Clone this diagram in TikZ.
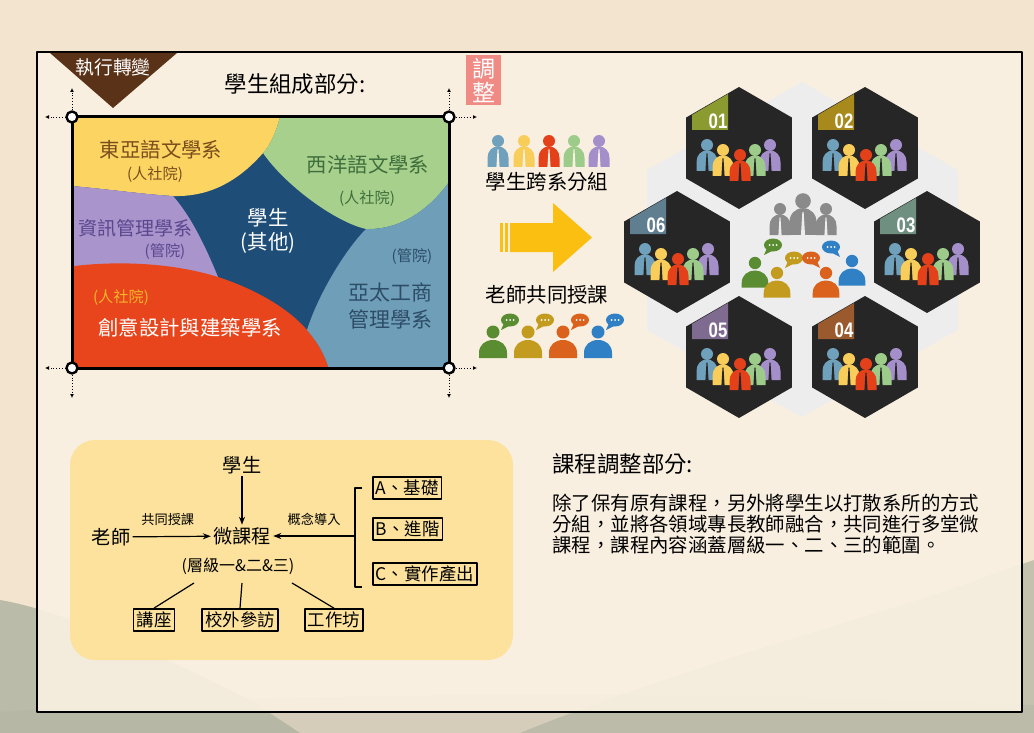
\documentclass[tikz,border=0pt]{standalone}
\usepackage{fontspec}
\setmainfont{Noto Sans CJK TC}
\newfontfamily\numfont{Liberation Sans}
\usetikzlibrary{arrows.meta, positioning}

\definecolor{paperout}{HTML}{F2E4CE}
\definecolor{paperin}{HTML}{FAF1E2}
\definecolor{hillA}{HTML}{A3AA98}
\definecolor{hillB}{HTML}{B2B3A3}
\definecolor{bannerbrown}{HTML}{5A3218}
\definecolor{tagpink}{HTML}{F08A84}
\definecolor{mapyellow}{HTML}{FCD462}
\definecolor{mapgreen}{HTML}{A6D08C}
\definecolor{mapnavy}{HTML}{1E4D78}
\definecolor{mappurple}{HTML}{A994CC}
\definecolor{mapred}{HTML}{E8451C}
\definecolor{mapsteel}{HTML}{6F9FB8}
\definecolor{txtbrown}{HTML}{7A4E1C}
\definecolor{txtgreen}{HTML}{3F6E3C}
\definecolor{txtpurple}{HTML}{5A478E}
\definecolor{txtorange}{HTML}{F6B52A}
\definecolor{txtsteel}{HTML}{2D4C68}
\definecolor{arrowgold}{HTML}{FBBF12}
\definecolor{pblue}{HTML}{6FA1BC}
\definecolor{pyellow}{HTML}{F8CD5A}
\definecolor{pred}{HTML}{E4411B}
\definecolor{pgreen}{HTML}{9CCB8A}
\definecolor{ppurple}{HTML}{A48FCB}
\definecolor{pgrey}{HTML}{8A8A8A}
\definecolor{tgreen}{HTML}{5A8C32}
\definecolor{tolive}{HTML}{C39B1E}
\definecolor{torange}{HTML}{DA621C}
\definecolor{tblue}{HTML}{2F80C4}
\definecolor{hexdark}{HTML}{262626}
\definecolor{hexlight}{HTML}{EDEDED}
\definecolor{tabA}{HTML}{8B9B2F}
\definecolor{tabB}{HTML}{A8891C}
\definecolor{tabC}{HTML}{6F8F80}
\definecolor{tabD}{HTML}{9A5A2E}
\definecolor{tabE}{HTML}{7F6B8F}
\definecolor{tabF}{HTML}{5F7E90}
\definecolor{flowyellow}{HTML}{FCE29C}

% little people
\tikzset{
  pics/person/.style 2 args={code={
    \fill[#1] (0,0) circle (6);
    \fill[#1] (-10.5,26) -- (-10.5,17) .. controls (-10.5,10) and (-6,5.5) .. (0,5.5) .. controls (6,5.5) and (10.5,10) .. (10.5,17) -- (10.5,26) -- cycle;
    \fill[#2] (-0.5,8.5) -- (0.5,8.5) -- (1.6,26.5) -- (-1.6,26.5) -- cycle;
  }},
  pics/speaker/.style={code={
    \fill[#1] (0,0) circle (6.5);
    \fill[#1] (-14,26) -- (-14,21) .. controls (-14,13) and (-8,8) .. (0,8) .. controls (8,8) and (14,13) .. (14,21) -- (14,26) -- cycle;
  }},
  pics/bubble/.style={code={
    \fill[#1] (0,0) ellipse (9 and 6.5);
    \fill[#1] (-6,3) -- (-9,10) -- (-1,6) -- cycle;
    \foreach \d in {-3.5,0,3.5} \fill[white] (\d,0) circle (1);
  }}
}

\begin{document}
\begin{tikzpicture}[x=0.5pt, y=-0.5pt, line join=round]
  \tikzstyle{maplabel}=[font=\fontsize{10.2}{12}\selectfont, inner sep=0pt]
  \tikzstyle{college}=[font=\fontsize{7.6}{9}\selectfont, inner sep=0pt]
  \tikzstyle{corner}=[circle, draw, fill=white, line width=1.2pt, minimum size=5.5pt, inner sep=0pt]
  \tikzstyle{guide}=[densely dotted, line width=0.4pt, -{Latex[length=2pt,width=2pt]}]
  \tikzstyle{flowtext}=[font=\fontsize{9.6}{11}\selectfont, inner sep=1pt]
  \tikzstyle{flowlabel}=[font=\fontsize{6.6}{8}\selectfont, inner sep=1pt]
  \tikzstyle{flowbox}=[draw, line width=0.8pt, inner sep=1.5pt, font=\fontsize{8.7}{10}\selectfont]
  \tikzstyle{flow}=[line width=0.6pt, -{Stealth[length=4pt,width=3pt]}]
  \useasboundingbox (0,0) rectangle (1034,733);

  % paper and hills
  \fill[paperout] (0,0) rectangle (1034,733);
  \fill[hillA, opacity=0.7] (0,600) .. controls (60,610) and (150,650) .. (250,700) -- (300,733) -- (0,733) -- cycle;
  \fill[hillB, opacity=0.7] (1034,560) -- (990,575) .. controls (900,610) and (700,660) .. (520,733) -- (1034,733) -- cycle;
  \fill[hillB, opacity=0.45] (0,712) .. controls (300,690) and (700,690) .. (1034,705) -- (1034,733) -- (0,733) -- cycle;
  \fill[paperin, opacity=0.9] (37,52) rectangle (1022,712);
  \draw[line width=1.1pt] (37,52) rectangle (1022,712);

  % banner and tag
  \fill[bannerbrown] (50,53) -- (177,53) -- (113,108) -- cycle;
  \node[text=white, font=\fontsize{9.4}{11}\selectfont] (banner) at (113,67) {執行轉變};
  \node[font=\fontsize{11.2}{13}\selectfont] (title) at (295,84) {學生組成部分:};
  \node[fill=tagpink, text=white, align=center, inner sep=0pt, minimum width=17.5pt, minimum height=25pt,
        font=\fontsize{11.5}{12}\selectfont] (adjust) at (483.5,80) {調\\整};

  % department map
  \begin{scope}
    \clip (72,117) rectangle (449,368);
    \fill[mapnavy] (72,117) rectangle (449,368);
    \fill[mapyellow] (60,105) -- (282,105) -- (280,117) .. controls (275,135) and (270,145) .. (263,153)
      .. controls (235,185) and (205,197) .. (173,196) .. controls (140,194) and (100,188) .. (60,185) -- cycle;
    \fill[mapgreen] (280,117) -- (282,105) -- (460,105) -- (460,170) -- (449,182)
      .. controls (425,215) and (395,230) .. (366,229) .. controls (335,222) and (285,185) .. (263,153)
      .. controls (270,145) and (275,135) .. (280,117) -- cycle;
    \fill[mappurple] (60,185) .. controls (100,188) and (140,194) .. (173,196)
      .. controls (190,215) and (205,245) .. (218,277) -- (60,280) -- cycle;
    \fill[mapred] (60,268) .. controls (110,260) and (170,262) .. (218,277) .. controls (258,290) and (290,310) .. (307,330)
      .. controls (318,343) and (326,355) .. (332,380) -- (60,380) -- cycle;
    \fill[mapsteel] (460,170) -- (449,182) .. controls (425,215) and (395,230) .. (366,229)
      .. controls (345,250) and (318,295) .. (307,330) .. controls (318,343) and (326,355) .. (332,380) -- (460,380) -- cycle;
  \end{scope}
  \draw[line width=1.5pt] (72,117) rectangle (449,368);

  \node[maplabel, text=txtbrown] (eastasia) at (161,150) {東亞語文學系};
  \node[college, text=txtbrown] (eastasiac) at (155,175) {(人社院)};
  \node[maplabel, text=txtgreen] (western) at (368,165) {西洋語文學系};
  \node[college, text=txtgreen] (westernc) at (367,199) {(人社院)};
  \node[maplabel, text=white, align=center] (others) at (268,231) {學生\\(其他)};
  \node[maplabel, font=\fontsize{9.5}{11}\selectfont, text=txtpurple] (infomgmt) at (135,228) {資訊管理學系};
  \node[college, text=txtpurple] (infomgmtc) at (165,252) {(管院)};
  \node[college, text=txtorange] (designc) at (121,298) {(人社院)};
  \node[maplabel, text=white] (design) at (190,328) {創意設計與建築學系};
  \node[college, text=txtsteel] (apbizc) at (412,257) {(管院)};
  \node[maplabel, font=\fontsize{10.5}{13.3}\selectfont, text=txtsteel, align=center] (apbiz) at (390,306) {亞太工商\\管理學系};

  % corner handles
  \node[corner] (tl) at (72,117) {};
  \node[corner] (tr) at (449,117) {};
  \node[corner] (bl) at (72,368) {};
  \node[corner] (br) at (449,368) {};
  \coordinate (tlw) at (45,117);  \coordinate (tln) at (72,88);
  \coordinate (tre) at (477,117); \coordinate (trn) at (449,88);
  \coordinate (blw) at (45,368);  \coordinate (bls) at (72,398);
  \coordinate (bre) at (477,368); \coordinate (brs) at (449,398);
  \draw[guide] (tl) -- (tlw);  \draw[guide] (tl) -- (tln);
  \draw[guide] (tr) -- (tre);  \draw[guide] (tr) -- (trn);
  \draw[guide] (bl) -- (blw);  \draw[guide] (bl) -- (bls);
  \draw[guide] (br) -- (bre);  \draw[guide] (br) -- (brs);

  % students and teachers
  \foreach \px/\col in {498/pblue, 524/pyellow, 549/pred, 574/pgreen, 599/ppurple}
    \pic at (\px,141) {person={\col}{paperin}};
  \node[font=\fontsize{10.2}{12}\selectfont] (mix) at (547,182) {學生跨系分組};
  \fill[arrowgold] (500,223) rectangle (503,252);
  \fill[arrowgold] (505,223) rectangle (508,252);
  \fill[arrowgold] (510,223) -- (553,223) -- (553,203) -- (592,237.5) -- (553,272) -- (553,252) -- (510,252) -- cycle;
  \node[font=\fontsize{10.2}{12}\selectfont] (coteach) at (547,295) {老師共同授課};
  \foreach \px/\col in {493/tgreen, 528/tolive, 563/torange, 598/tblue} {
    \pic at (\px,332) {speaker=\col};
    \pic at (\px+17,320) {bubble=\col};
  }

  % groups
  \fill[hexlight] (802,82) -- (958,170) -- (958,330) -- (802,417) -- (647,330) -- (647,170) -- cycle;
  \foreach \num/\cx/\cy/\tab in {01/739/148/tabA, 02/865/148/tabB, 03/927/252/tabC,
                                 04/865/357/tabD, 05/739/357/tabE, 06/677/252/tabF} {
    \begin{scope}[shift={(\cx,\cy)}]
      \fill[hexdark] (0,-61) -- (52.8,-30.5) -- (52.8,30.5) -- (0,61) -- (-52.8,30.5) -- (-52.8,-30.5) -- cycle;
      \fill[\tab] (-47,-33) -- (-11,-54) -- (-11,-18) -- (-47,-18) -- cycle;
      \node[text=white, font=\numfont\bfseries\fontsize{10.5}{12}\selectfont, xscale=0.8, inner sep=0pt] (hex\num) at (-21,-27) {\num};
      \pic at (-32,-3) {person={pblue}{hexdark}};
      \pic at (31,-3) {person={ppurple}{hexdark}};
      \pic at (-16,2) {person={pyellow}{hexdark}};
      \pic at (16,2) {person={pgreen}{hexdark}};
      \pic at (1,7) {person={pred}{hexdark}};
    \end{scope}
  }

  % teachers in the middle
  \pic at (780,209) {person={pgrey}{hexlight}};
  \pic at (826,209) {person={pgrey}{hexlight}};
  \pic[scale=1.3] at (803,201) {person={pgrey}{hexlight}};
  \pic[scale=0.95] at (755,263) {speaker=tgreen};
  \pic[scale=0.95] at (852,261) {speaker=tblue};
  \pic[scale=0.95] at (777,273) {speaker=tolive};
  \pic[scale=0.95] at (826,273) {speaker=torange};
  \pic at (773,245) {bubble=tgreen};
  \pic[xscale=-1] at (831,247) {bubble=tblue};
  \pic at (794,258) {bubble=tolive};
  \pic[xscale=-1] at (811,258) {bubble=torange};

  % micro course
  \fill[flowyellow, rounded corners=12.5pt] (70,440) rectangle (513,660);
  \node[flowtext] (stu) at (242,465) {學生};
  \node[flowtext] (micro) at (242,536) {微課程};
  \node[flowtext] (tea) at (111,537) {老師};
  \node[font=\fontsize{8}{9}\selectfont, inner sep=1pt] (lvl) at (238,566) {(層級一\&二\&三)};
  \node[flowbox, anchor=west] (basic) at (372,488) {A、基礎};
  \node[flowbox, anchor=west] (adv) at (372,529) {B、進階};
  \node[flowbox, anchor=west] (prod) at (372,574) {C、實作產出};
  \node[flowbox] (lect) at (154,620) {講座};
  \node[flowbox] (visit) at (240,620) {校外參訪};
  \node[flowbox] (shop) at (334,620) {工作坊};
  \coordinate (brk) at (355,536);
  \coordinate (lv1) at (194,583);
  \coordinate (lv2) at (242,583);
  \coordinate (lv3) at (292,583);
  \draw[flow] (stu) -- (micro);
  \draw[flow] (tea) -- node[flowlabel, above=4pt, pos=0.45] {共同授課} (micro);
  \draw[flow] (brk) -- node[flowlabel, above=4pt] {概念導入} (micro);
  \draw[line width=0.6pt] (362,488) -- (355,488) -- (355,587) -- (362,587);
  \draw[line width=0.6pt] (lv1) -- (lect.north);
  \draw[line width=0.6pt] (lv2) -- (visit.north);
  \draw[line width=0.6pt] (lv3) -- (shop.north);

  % course text
  \node[anchor=west, font=\fontsize{11.2}{13}\selectfont, inner sep=0pt] (plan) at (552,464) {課程調整部分:};
  \node[anchor=north west, align=left, font=\fontsize{9.7}{10.5}\selectfont, inner sep=0pt] (plantext) at (552,494)
    {除了保有原有課程，另外將學生以打散系所的方式\\分組，並將各領域專長教師融合，共同進行多堂微\\課程，課程內容涵蓋層級一、二、三的範圍。};
\end{tikzpicture}
\end{document}
